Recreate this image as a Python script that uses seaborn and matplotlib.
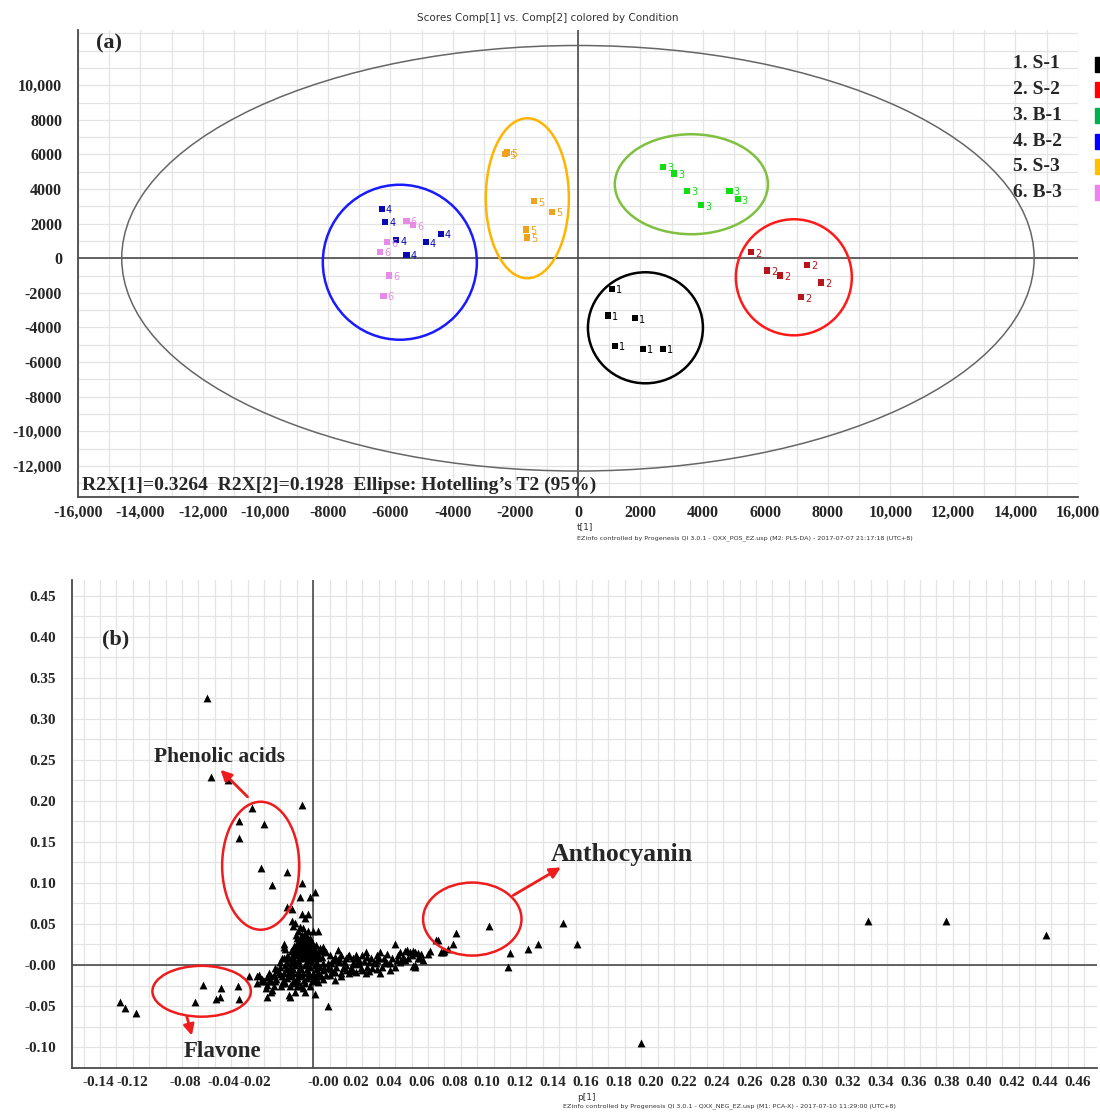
import numpy as np
import pandas as pd
import seaborn as sns
import matplotlib.pyplot as plt
from matplotlib.patches import Ellipse, Rectangle
from matplotlib.ticker import MultipleLocator

# ---- panel (a): PLS-DA scores t[1] / t[2] per condition ----
conditions = ['1. S-1', '2. S-2', '3. B-1', '4. B-2', '5. S-3', '6. B-3']
S1_t1 = [1080, 970, 1820, 1190, 2070, 2730]
S1_t2 = [-1760, -3310, -3470, -5060, -5250, -5250]
S2_t1 = [5540, 6050, 6470, 7320, 7790, 7130]
S2_t2 = [350, -710, -1000, -390, -1400, -2250]
B1_t1 = [2730, 3080, 3500, 3940, 4850, 5110]
B1_t2 = [5280, 4900, 3890, 3060, 3890, 3410]
B2_t1 = [-6280, -6170, -5820, -5490, -4870, -4390]
B2_t2 = [2850, 2100, 1040, 190, 920, 1400]
S3_t1 = [-2340, -2280, -1400, -840, -1650, -1630]
S3_t2 = [6010, 6110, 3300, 2680, 1660, 1200]
B3_t1 = [-5490, -5280, -6110, -6340, -6050, -6220]
B3_t2 = [2160, 1910, 920, 360, -1000, -2180]

# ---- panel (b): PCA loadings p[1] / p[2] ----
upper_p1 = [-0.065, -0.062, -0.052, -0.037, -0.007, -0.045, -0.030, -0.045, -0.032, -0.016,
            -0.025, -0.007, 0.001, -0.008, -0.002, -0.016, -0.013, -0.007, -0.003, -0.013,
            -0.005, -0.011, -0.012, -0.008, -0.006, -0.003, 0.000, 0.003]
upper_p2 = [0.326, 0.229, 0.226, 0.192, 0.195, 0.176, 0.172, 0.155, 0.118, 0.113,
            0.098, 0.100, 0.089, 0.083, 0.083, 0.071, 0.068, 0.062, 0.062, 0.054,
            0.057, 0.051, 0.047, 0.046, 0.045, 0.041, 0.041, 0.041]
left_p1 = [-0.067, -0.056, -0.046, -0.072, -0.059, -0.057, -0.045, -0.118, -0.115, -0.108,
           -0.039, -0.034, -0.028, -0.027, -0.024, -0.031, -0.028, -0.025, -0.019, -0.014,
           0.001, 0.009, -0.018, -0.018]
left_p2 = [-0.024, -0.028, -0.025, -0.045, -0.041, -0.039, -0.041, -0.045, -0.052, -0.059,
           -0.014, -0.013, -0.015, -0.020, -0.026, -0.020, -0.039, -0.030, -0.022, -0.039,
           -0.035, -0.050, 0.022, 0.008]
far_p1 = [0.107, 0.087, 0.076, 0.085, 0.071, 0.078, 0.080, 0.152, 0.161, 0.137,
          0.131, 0.120, 0.119, 0.062, 0.067, 0.200, 0.338, 0.386, 0.447, 0.053,
          0.056, 0.059, 0.061, 0.064, 0.065, 0.061]
far_p2 = [0.048, 0.039, 0.030, 0.026, 0.017, 0.016, 0.017, 0.051, 0.026, 0.025,
          0.020, 0.015, -0.003, -0.002, 0.006, -0.095, 0.054, 0.054, 0.036, 0.016,
          0.017, 0.016, 0.017, 0.015, 0.009, -0.001]
core_p1 = [-0.009, -0.007, -0.005, -0.010, -0.008, -0.006, -0.004, -0.002, -0.009, -0.007,
           -0.005, -0.003, -0.001, -0.011, -0.008, -0.006, -0.004, -0.002, 0.000, 0.002,
           0.004, 0.006, -0.012, -0.010, -0.007, -0.005, -0.003, -0.001, 0.001, 0.003,
           -0.015, -0.013, -0.009, -0.006, -0.003, 0.000, 0.003, -0.018, -0.017, -0.019,
           -0.013, -0.023, -0.020, -0.017, -0.014, -0.011, -0.008, -0.005, -0.002, 0.001,
           0.004, -0.021, -0.018, -0.015, -0.012, -0.009, -0.006, -0.003, 0.000, 0.003,
           0.006, 0.009, -0.019, -0.016, -0.013, -0.010, -0.007, -0.004, -0.001, 0.002,
           0.005, 0.008, -0.017, -0.013, -0.009, -0.005, -0.001, 0.003, -0.033, -0.031,
           -0.027, -0.026, -0.028, -0.026, -0.023, -0.034, -0.015, -0.010, -0.006, 0.013,
           0.017, -0.005, -0.011]
core_p2 = [0.041, 0.037, 0.039, 0.033, 0.031, 0.033, 0.031, 0.033, 0.026, 0.024,
           0.025, 0.026, 0.028, 0.020, 0.018, 0.020, 0.018, 0.021, 0.022, 0.024,
           0.021, 0.022, 0.014, 0.012, 0.012, 0.014, 0.012, 0.014, 0.016, 0.014,
           0.008, 0.006, 0.006, 0.008, 0.006, 0.008, 0.008, 0.025, 0.020, 0.008,
           0.009, -0.004, -0.002, 0.000, -0.002, 0.000, -0.002, 0.000, -0.002, 0.000,
           -0.002, -0.008, -0.010, -0.008, -0.010, -0.008, -0.010, -0.008, -0.010, -0.008,
           -0.006, -0.004, -0.014, -0.016, -0.014, -0.016, -0.014, -0.016, -0.014, -0.016,
           -0.014, -0.012, -0.022, -0.022, -0.021, -0.022, -0.020, -0.021, -0.012, -0.017,
           -0.010, -0.014, -0.024, -0.033, -0.020, -0.022, -0.037, -0.026, -0.028, -0.018,
           -0.014, -0.033, -0.033]
# the dense (overplotted) centre of the cloud
dense_p1 = [-0.0105, -0.0075, -0.0045, -0.0025, -0.0095, -0.006, -0.0115, -0.0085, -0.0045, -0.001,
            0.001, -0.0135, -0.0105, -0.0075, -0.0025, 0.0045, -0.016, -0.012, -0.008, -0.004,
            -0.0005, 0.002, 0.0055, -0.020, -0.016, -0.012, -0.0085, -0.0045, -0.001, 0.0025,
            0.006, 0.009, -0.022, -0.0165, -0.0125, -0.0075, -0.0035, 0.0015, 0.0065, 0.011,
            -0.024, -0.0205, -0.0145, -0.0085, -0.0025, 0.0035, 0.0115, -0.0225, -0.0175, -0.0115,
            -0.0055, 0.0005, 0.006, -0.0195, -0.014, -0.0075, -0.002, -0.030, -0.0255, -0.029]
dense_p2 = [0.036, 0.035, 0.036, 0.030, 0.029, 0.028, 0.023, 0.022, 0.023, 0.024,
            0.019, 0.017, 0.016, 0.016, 0.017, 0.017, 0.011, 0.010, 0.009, 0.010,
            0.011, 0.011, 0.010, 0.004, 0.003, 0.003, 0.003, 0.003, 0.004, 0.003,
            0.003, 0.002, -0.006, -0.005, -0.005, -0.005, -0.005, -0.005, -0.004, -0.005,
            -0.012, -0.011, -0.012, -0.012, -0.012, -0.011, -0.009, -0.017, -0.019, -0.019,
            -0.018, -0.018, -0.017, -0.025, -0.026, -0.025, -0.025, -0.020, -0.019, -0.028]
band_p1 = [0.006, 0.008, 0.010, 0.013, 0.015, 0.017, 0.020, 0.022, 0.024, 0.026,
           0.028, 0.030, 0.032, 0.035, 0.037, 0.039, 0.041, 0.043, 0.045, 0.048,
           0.050, 0.052, 0.054, 0.057, 0.060, 0.062, 0.066, 0.070, 0.075, 0.079,
           0.082, 0.011, 0.014, 0.016, 0.020, 0.023, 0.026, 0.030, 0.033, 0.036,
           0.038, 0.041, 0.042, 0.045, 0.050, 0.053, 0.056, 0.062, 0.064, 0.022,
           0.026, 0.032, 0.020, 0.013, 0.010, 0.017, 0.015, 0.019, 0.024, 0.028,
           0.031, 0.034, 0.039, 0.044, 0.047, 0.051, 0.055, 0.058, 0.018, 0.024,
           0.029, 0.034, 0.039, 0.047, 0.012, 0.016, 0.021, 0.027, 0.033, 0.040]
band_p2 = [0.020, 0.016, 0.012, 0.010, 0.018, 0.012, 0.008, 0.012, 0.008, 0.012,
           0.006, 0.012, 0.016, 0.008, 0.004, 0.012, 0.016, 0.008, 0.014, 0.008,
           0.026, 0.012, 0.006, 0.018, 0.012, 0.016, 0.014, 0.014, 0.031, 0.016,
           0.020, 0.002, -0.002, 0.004, 0.000, -0.004, 0.001, -0.006, -0.002, -0.004,
           0.002, -0.010, -0.002, 0.002, -0.002, 0.004, 0.006, 0.000, 0.008, -0.010,
           -0.008, -0.010, -0.006, -0.008, -0.012, -0.010, 0.006, 0.004, 0.003, 0.002,
           0.005, 0.004, 0.006, 0.004, 0.003, 0.006, 0.010, 0.008, -0.004, -0.007,
           -0.004, -0.007, -0.005, -0.006, 0.006, 0.009, 0.011, 0.009, 0.010, 0.009]

pt_colors = ['#000000', '#b8141c', '#12dc12', '#0a0ab4', '#f0a21c', '#e68ce6']
ring_colors = ['#000000', '#ff1a1a', '#80c040', '#1a1aff', '#ffb400']
legend_colors = ['#000000', '#ff0000', '#00b050', '#0000ff', '#ffc000', '#ee82ee']

sns.set_style("white")
serif = ['Liberation Serif', 'DejaVu Serif']
plt.rcParams['font.family'] = ['DejaVu Sans']

fig = plt.figure(figsize=(11, 11.13), dpi=100)
grid_c = '#e4e4e4'
axis_c = '#4a4a4a'

# ================= panel (a) =================
ax1 = fig.add_axes([0.0709, 0.5535, 0.909, 0.4196])
t1_groups = [S1_t1, S2_t1, B1_t1, B2_t1, S3_t1, B3_t1]
t2_groups = [S1_t2, S2_t2, B1_t2, B2_t2, S3_t2, B3_t2]
df_a = pd.DataFrame({
    't1': sum(t1_groups, []),
    't2': sum(t2_groups, []),
    'cond': [c for c, g in zip(conditions, t1_groups) for _ in g],
})
sns.scatterplot(data=df_a, x='t1', y='t2', hue='cond', palette=pt_colors,
                marker='s', s=20, linewidth=0, legend=False, ax=ax1, zorder=4)
for i, (xs, ys) in enumerate(zip(t1_groups, t2_groups)):
    for x, y in zip(xs, ys):
        ax1.annotate(str(i + 1), (x, y), xytext=(3, -1), textcoords='offset points',
                     fontsize=7, color=pt_colors[i], va='center', ha='left', zorder=5)

ax1.set_xlim(-16000, 16000)
ax1.set_ylim(-13800, 13200)
ax1.add_patch(Ellipse((0, 0), 29200, 24600, fill=False, ec='#666666', lw=1.1, zorder=3))
rings = [((2160, -4020), 3680, 6420), ((6910, -1100), 3710, 6710),
         ((3630, 4280), 4900, 5780), ((-5700, -230), 4930, 8960),
         ((-1620, 3470), 2660, 9250)]
for (c, w, h), col in zip(rings, ring_colors):
    ax1.add_patch(Ellipse(c, w, h, fill=False, ec=col, lw=1.8, zorder=3))
ax1.axhline(0, color=axis_c, lw=1.2, zorder=2)
ax1.axvline(0, color=axis_c, lw=1.2, zorder=2)

xt = np.arange(-16000, 16001, 2000)
fmt = lambda v: f"{v:,}" if abs(v) >= 10000 else str(v)
ax1.set_xticks(xt, [fmt(v) for v in xt])
yt = np.arange(-12000, 10001, 2000)
ax1.set_yticks(yt, [fmt(v) for v in yt])
ax1.xaxis.set_minor_locator(MultipleLocator(1000))
ax1.yaxis.set_minor_locator(MultipleLocator(1000))
ax1.grid(True, which='both', color=grid_c, lw=0.9, zorder=0)
ax1.set_xlabel('')
ax1.set_ylabel('')
for lab in ax1.get_xticklabels() + ax1.get_yticklabels():
    lab.set_family(serif)
    lab.set_weight('bold')
    lab.set_fontsize(11.5)
ax1.tick_params(axis='both', which='both', direction='inout', color=axis_c, width=1, length=5)
ax1.tick_params(axis='x', pad=3)
ax1.tick_params(axis='y', pad=9)
for s in ['top', 'right']:
    ax1.spines[s].set_visible(False)
for s in ['left', 'bottom']:
    ax1.spines[s].set_color(axis_c)
    ax1.spines[s].set_linewidth(1.3)

ax1.text(0.018, 0.970, '(a)', transform=ax1.transAxes, family=serif, weight='bold',
         fontsize=16, ha='left', va='center')
ax1.text(0.004, 0.024, 'R2X[1]=0.3264  R2X[2]=0.1928  Ellipse: Hotelling\u2019s T2 (95%)',
         transform=ax1.transAxes, family=serif, weight='bold', fontsize=14,
         ha='left', va='center', zorder=6)
fig.text(0.498, 0.984, 'Scores Comp[1] vs. Comp[2] colored by Condition',
         fontsize=7.5, ha='center', va='center', color='#333333')
fig.text(0.5245, 1 - 527 / 1113, 't[1]', fontsize=6.5, ha='left', va='center', color='#333333')
fig.text(0.5245, 1 - 538 / 1113,
         'EZinfo controlled by Progenesis QI 3.0.1 - QXX_POS_EZ.usp (M2: PLS-DA) - 2017-07-07 21:17:18 (UTC+8)',
         fontsize=4.6, ha='left', va='center', color='#333333')
for i, (lab, col) in enumerate(zip(conditions, legend_colors)):
    yc = 1 - (64 + 25.7 * i) / 1113
    fig.text(0.921, yc, lab, family=serif, weight='bold', fontsize=14, ha='left', va='center')
    fig.patches.append(Rectangle((0.9955, yc - 0.0068), 0.02, 0.0135, transform=fig.transFigure,
                                 color=col, figure=fig))

# ================= panel (b) =================
ax2 = fig.add_axes([0.0655, 0.0404, 0.932, 0.4386])
df_b = pd.DataFrame({
    'p1': upper_p1 + left_p1 + far_p1 + core_p1 + dense_p1 + band_p1,
    'p2': upper_p2 + left_p2 + far_p2 + core_p2 + dense_p2 + band_p2,
})
sns.scatterplot(data=df_b, x='p1', y='p2', marker='^', s=32, color='black',
                linewidth=0, ax=ax2, zorder=4)
ax2.set_xlim(-0.147, 0.478)
ax2.set_ylim(-0.1256, 0.4695)
ax2.axhline(0, color=axis_c, lw=1.2, zorder=2)
ax2.axvline(0, color=axis_c, lw=1.2, zorder=2)

xlab = ['-0.14', '-0.12', '-0.08', '-0.04', '-0.02'] + \
       ['-0.00'] + [f'{v:.2f}' for v in np.arange(0.02, 0.461, 0.02)]
xpos = [-0.131, -0.110, -0.078, -0.055, -0.035] + list(np.arange(0.0, 0.461, 0.02) + 0.006)
ax2.set_xticks(xpos, xlab)
ax2.xaxis.set_minor_locator(MultipleLocator(0.01))
ylab_v = np.arange(-0.10, 0.451, 0.05)
ax2.set_yticks(ylab_v, ['-0.10', '-0.05', '-0.00'] + [f'{v:.2f}' for v in ylab_v[3:]])
ax2.yaxis.set_minor_locator(MultipleLocator(0.025))
ax2.grid(False)
for v in np.arange(-0.14, 0.48, 0.01):
    ax2.axvline(v, color=grid_c, lw=0.9, zorder=0)
for v in np.arange(-0.125, 0.47, 0.025):
    ax2.axhline(v, color=grid_c, lw=0.9, zorder=0)
ax2.set_xlabel('')
ax2.set_ylabel('')
for lab in ax2.get_xticklabels() + ax2.get_yticklabels():
    lab.set_family(serif)
    lab.set_weight('bold')
    lab.set_fontsize(11)
ax2.tick_params(axis='x', which='major', length=0, pad=6)
ax2.tick_params(axis='x', which='minor', direction='inout', length=5, color=axis_c)
ax2.tick_params(axis='y', which='both', direction='inout', length=5, color=axis_c, pad=9)
for s in ['top', 'right']:
    ax2.spines[s].set_visible(False)
for s in ['left', 'bottom']:
    ax2.spines[s].set_color(axis_c)
    ax2.spines[s].set_linewidth(1.3)

red = '#ee1c1c'
for c, w, h in [((-0.032, 0.121), 0.047, 0.156), ((0.097, 0.056), 0.060, 0.089),
                ((-0.068, -0.032), 0.060, 0.062)]:
    ax2.add_patch(Ellipse(c, w, h, fill=False, ec=red, lw=1.8, zorder=5))
for tail, head in [((-0.040, 0.205), (-0.0565, 0.238)), ((0.122, 0.085), (0.151, 0.119)),
                   ((-0.077, -0.063), (-0.074, -0.086))]:
    ax2.annotate('', xy=head, xytext=tail,
                 arrowprops=dict(arrowstyle='-|>', color=red, lw=2, mutation_scale=16,
                                 shrinkA=0, shrinkB=0), zorder=6)
ax2.text(-0.0573, 0.254, 'Phenolic acids', family=serif, weight='bold', fontsize=15.5,
         ha='center', va='center')
ax2.text(0.188, 0.135, 'Anthocyanin', family=serif, weight='bold', fontsize=18.5,
         ha='center', va='center')
ax2.text(-0.0555, -0.105, 'Flavone', family=serif, weight='bold', fontsize=16.5,
         ha='center', va='center')
ax2.text(0.029, 0.877, '(b)', transform=ax2.transAxes, family=serif, weight='bold',
         fontsize=16, ha='left', va='center')
fig.text(0.5245, 1 - 1097 / 1113, 'p[1]', fontsize=6.5, ha='left', va='center', color='#333333')
fig.text(0.5118, 1 - 1106 / 1113,
         'EZinfo controlled by Progenesis QI 3.0.1 - QXX_NEG_EZ.usp (M1: PCA-X) - 2017-07-10 11:29:00 (UTC+8)',
         fontsize=4.6, ha='left', va='center', color='#333333')

fig.savefig('out.png', dpi=100)
